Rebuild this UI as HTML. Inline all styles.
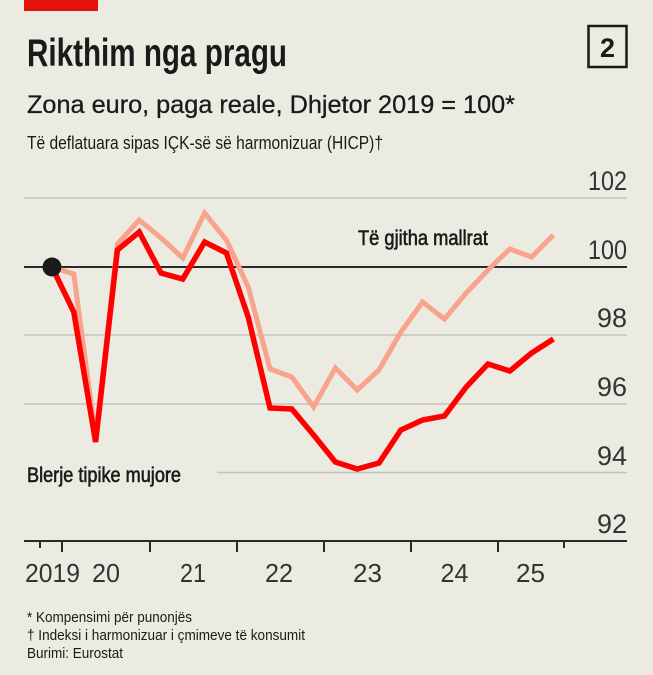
<!DOCTYPE html>
<html>
<head>
<meta charset="utf-8">
<style>
html,body{margin:0;padding:0;background:#ecebe2;}
svg{display:block;}
text{font-family:"Liberation Sans",sans-serif;}
</style>
</head>
<body>
<svg width="653" height="675" viewBox="0 0 653 675" xmlns="http://www.w3.org/2000/svg">
<rect x="0" y="0" width="653" height="675" fill="#ecebe2"/>
<rect x="24" y="0" width="74" height="11" fill="#e3120b"/>

<text x="27" y="66" font-size="39" font-weight="bold" fill="#1a1a1a" textLength="260" lengthAdjust="spacingAndGlyphs">Rikthim nga pragu</text>
<rect x="588.5" y="26" width="38" height="41" fill="none" stroke="#1a1a1a" stroke-width="2.5"/>
<text x="607.5" y="57" font-size="27" font-weight="bold" fill="#1a1a1a" text-anchor="middle">2</text>

<text x="27" y="113" font-size="25" fill="#1a1a1a" stroke="#1a1a1a" stroke-width="0.3" textLength="488" lengthAdjust="spacingAndGlyphs">Zona euro, paga reale, Dhjetor 2019 = 100*</text>
<text x="27" y="149" font-size="18" fill="#1a1a1a" textLength="356" lengthAdjust="spacingAndGlyphs">Të deflatuara sipas IÇK-së së harmonizuar (HICP)†</text>

<!-- gridlines -->
<g stroke="#c4c3bb" stroke-width="1.6">
<line x1="24" y1="198" x2="627" y2="198"/>
<line x1="24" y1="335" x2="627" y2="335"/>
<line x1="24" y1="404" x2="627" y2="404"/>
<line x1="217" y1="472.5" x2="627" y2="472.5"/>
</g>
<line x1="24" y1="267" x2="627" y2="267" stroke="#2a2a2a" stroke-width="2"/>

<!-- y labels -->
<g font-size="27" fill="#333" text-anchor="end">
<text x="627" y="190" textLength="39" lengthAdjust="spacingAndGlyphs">102</text>
<text x="627" y="259" textLength="39" lengthAdjust="spacingAndGlyphs">100</text>
<text x="627" y="327" textLength="30" lengthAdjust="spacingAndGlyphs">98</text>
<text x="627" y="396" textLength="30" lengthAdjust="spacingAndGlyphs">96</text>
<text x="627" y="465" textLength="30" lengthAdjust="spacingAndGlyphs">94</text>
<text x="627" y="533" textLength="30" lengthAdjust="spacingAndGlyphs">92</text>
</g>

<!-- x axis -->
<line x1="24" y1="541" x2="627" y2="541" stroke="#2a2a2a" stroke-width="2"/>
<g stroke="#2a2a2a" stroke-width="2">
<line x1="40" y1="541" x2="40" y2="548"/>
<line x1="62" y1="541" x2="62" y2="552"/>
<line x1="150" y1="541" x2="150" y2="552"/>
<line x1="237" y1="541" x2="237" y2="552"/>
<line x1="324" y1="541" x2="324" y2="552"/>
<line x1="411" y1="541" x2="411" y2="552"/>
<line x1="498" y1="541" x2="498" y2="552"/>
<line x1="564" y1="541" x2="564" y2="548"/>
</g>
<g font-size="26" fill="#333" text-anchor="middle">
<text x="52.5" y="582" textLength="55" lengthAdjust="spacingAndGlyphs">2019</text>
<text x="106" y="582" textLength="28" lengthAdjust="spacingAndGlyphs">20</text>
<text x="193" y="582" textLength="26" lengthAdjust="spacingAndGlyphs">21</text>
<text x="279" y="582" textLength="28" lengthAdjust="spacingAndGlyphs">22</text>
<text x="367.5" y="582" textLength="29" lengthAdjust="spacingAndGlyphs">23</text>
<text x="454.5" y="582" textLength="28" lengthAdjust="spacingAndGlyphs">24</text>
<text x="530.5" y="582" textLength="29" lengthAdjust="spacingAndGlyphs">25</text>
</g>

<!-- series -->
<polyline fill="none" stroke="#f9a28c" stroke-width="5" stroke-linejoin="miter" stroke-miterlimit="3"
points="52,267 73.8,274 95.6,437 117.4,244 139.2,220 161,238 182.8,258 204.6,213 226.4,240 248.2,287 270,369 291.8,377 313.6,407 335.4,368 357.2,390 379,370 400.8,332 422.6,302 444.4,319 466.2,293 488,270 509.8,249 531.6,257 553.4,235"/>
<polyline fill="none" stroke="#ff0000" stroke-width="5.5" stroke-linejoin="miter" stroke-miterlimit="3"
points="52,267 73.8,312 95.6,442 117.4,250 139.2,232 161,273 182.8,279 204.6,242 226.4,253 248.2,317 270,408 291.8,409 313.6,435 335.4,462 357.2,469 379,463 400.8,430 422.6,420 444.4,416 466.2,387 488,364 509.8,371 531.6,353 553.4,339"/>
<circle cx="52" cy="267" r="9.5" fill="#1a1a1a"/>

<!-- series labels -->
<text x="358" y="245" font-size="21" fill="#1a1a1a" stroke="#1a1a1a" stroke-width="0.6" textLength="130" lengthAdjust="spacingAndGlyphs">Të gjitha mallrat</text>
<text x="27" y="482" font-size="21" fill="#1a1a1a" stroke="#1a1a1a" stroke-width="0.6" textLength="154" lengthAdjust="spacingAndGlyphs">Blerje tipike mujore</text>

<!-- footer -->
<g font-size="14.5" fill="#1a1a1a">
<text x="27" y="622" textLength="165" lengthAdjust="spacingAndGlyphs">* Kompensimi për punonjës</text>
<text x="27" y="640" textLength="278" lengthAdjust="spacingAndGlyphs">† Indeksi i harmonizuar i çmimeve të konsumit</text>
<text x="27" y="658" textLength="96" lengthAdjust="spacingAndGlyphs">Burimi: Eurostat</text>
</g>
</svg>
</body>
</html>
